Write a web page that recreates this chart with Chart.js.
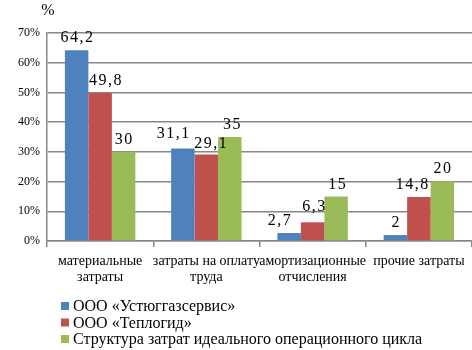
<!DOCTYPE html>
<html>
<head>
<meta charset="utf-8">
<script src="https://cdn.jsdelivr.net/npm/chart.js"></script>
</head>
<body style="margin:0">
<canvas id="costChart" width="472" height="350"></canvas>
<script>
    // categories and series (shares of costs, %)
    var categories = [
        ['материальные', 'затраты'],
        ['затраты на оплату', 'труда'],
        ['амортизационные', 'отчисления'],
        ['прочие затраты']
    ];
    var seriesNames = [
        'ООО «Устюггазсервис»',
        'ООО «Теплогид»',
        'Структура затрат идеального операционного цикла'
    ];
    var ustyugValues = [64.2, 31.1, 2.7, 2];
    var teplogidValues = [49.8, 29.1, 6.3, 14.8];
    var idealValues = [30, 35, 15, 20];
    var yMax = 70;
    var yStep = 10;

    var colors = ['#4F81BD', '#C0504D', '#9BBB59'];
    var fontFamily = "'Liberation Serif', 'Times New Roman', serif";
    var gridColor = '#878787';

    // small shifts so neighbouring value labels do not collide
    var labelShift = [
        [[0, 0], [-10, -3], [-10, 0], [0, 0]],
        [[5, 0], [4, 1], [1, -3], [-7, 0]],
        [[0, 0], [2, 0], [1, 1], [0, -1]]
    ];

    var valueLabels = {
        id: 'valueLabels',
        afterDatasetsDraw: function (chart) {
            var c = chart.ctx;
            c.save();
            c.font = '16px ' + fontFamily;
            c.fillStyle = '#000';
            c.textAlign = 'left';
            c.textBaseline = 'alphabetic';
            chart.data.datasets.forEach(function (ds, i) {
                chart.getDatasetMeta(i).data.forEach(function (bar, j) {
                    var s = labelShift[i][j];
                    var chars = String(ds.data[j]).replace('.', ',').split('');
                    // spread the characters a little
                    var gap = 1.5;
                    var w = chars.reduce(function (a, ch) { return a + c.measureText(ch).width; }, 0) + gap * (chars.length - 1);
                    var x = bar.x + s[0] - w / 2;
                    chars.forEach(function (ch) {
                        c.fillText(ch, x, bar.y - 8 + s[1]);
                        x += c.measureText(ch).width + gap;
                    });
                });
            });
            c.restore();
        }
    };

    var sideTexts = {
        id: 'sideTexts',
        afterDraw: function (chart) {
            var c = chart.ctx;
            c.save();
            // unit caption above the value axis
            c.font = '16px ' + fontFamily;
            c.fillStyle = '#000';
            c.textAlign = 'center';
            c.textBaseline = 'alphabetic';
            c.fillText('%', chart.chartArea.left + 1, 15);

            // legend, one series per row
            c.textAlign = 'left';
            c.textBaseline = 'middle';
            chart.data.datasets.forEach(function (ds, i) {
                var y = 306 + i * 16.5;
                c.fillStyle = ds.backgroundColor;
                c.fillRect(61, y - 4, 8, 8);
                c.fillStyle = '#000';
                c.fillText(ds.label, 73, y + 1);
            });
            c.restore();
        }
    };

    var costChart = new Chart(document.getElementById('costChart').getContext('2d'), {
        type: 'bar',
        data: {
            labels: categories,
            datasets: [
                { label: seriesNames[0], data: ustyugValues, backgroundColor: colors[0] },
                { label: seriesNames[1], data: teplogidValues, backgroundColor: colors[1] },
                { label: seriesNames[2], data: idealValues, backgroundColor: colors[2] }
            ]
        },
        options: {
            responsive: false,
            animation: false,
            layout: { padding: { top: 33, right: 0, bottom: 59, left: 0 } },
            datasets: {
                bar: { categoryPercentage: 0.663, barPercentage: 1 }
            },
            plugins: {
                legend: { display: false },
                tooltip: { enabled: false }
            },
            scales: {
                x: {
                    afterFit: function (s) { s.height = 50; },
                    grid: {
                        offset: true,
                        drawOnChartArea: false,
                        tickLength: 6,
                        color: gridColor,
                        lineWidth: 1.5
                    },
                    border: { color: gridColor, width: 1.5 },
                    ticks: {
                        color: '#000',
                        font: { family: fontFamily, size: 14, lineHeight: 1.1 },
                        padding: 7,
                        maxRotation: 0,
                        autoSkip: false
                    }
                },
                y: {
                    min: 0,
                    max: yMax,
                    afterFit: function (s) { s.width = 47; },
                    grid: {
                        drawTicks: false,
                        color: gridColor,
                        lineWidth: 1.5
                    },
                    border: { color: gridColor, width: 1.5 },
                    ticks: {
                        stepSize: yStep,
                        padding: 7,
                        color: '#000',
                        font: { family: fontFamily, size: 12 },
                        callback: function (v) { return v + '%'; }
                    }
                }
            }
        },
        plugins: [valueLabels, sideTexts]
    });
</script>
</body>
</html>
